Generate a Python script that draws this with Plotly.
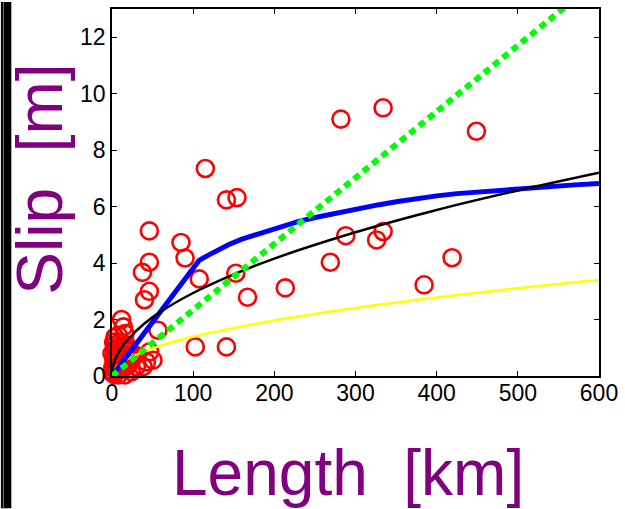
import plotly.graph_objects as go

# Observed slip data (length km, slip m)
obs_length = [282, 334, 449, 115, 141, 154, 46, 85, 90, 46, 37.5, 107.5, 152.5, 46, 40, 167,
              288, 334, 326, 269, 419, 213.5, 384.5, 102.6, 141, 56.6, 50.5, 46.4, 42.4, 38.3,
              30, 24, 16, 7.7, 11.8, 14, 7.7, 16, 9.8, 3.7,
              0.5, 1, 2, 3, 4, 5, 6, 8, 10, 12, 14, 18, 20, 22, 25, 3, 1.5, 9, 13, 2, 6, 18, 28,
              -2, 0, 4, 7, 11, 15, 19]
obs_slip = [9.1, 9.5, 8.67, 7.35, 6.24, 6.32, 5.14, 4.73, 4.18, 4.03, 3.67, 3.44, 3.64, 3.0, 2.7, 2.79,
            4.97, 5.12, 4.82, 4.03, 4.19, 3.12, 3.23, 1.03, 1.03, 1.62, 0.56, 0.86, 0.5, 0.33,
            0.33, 0.15, 0.04, 0.04, 2.0, 1.74, 1.44, 1.5, 1.03, 1.38,
            0.1, 0.3, 0.6, 0.9, 1.1, 0.5, 0.2, 0.8, 1.2, 0.6, 1.0, 0.7, 0.4, 0.9, 0.6, 0.05, 0.15, 0.35, 0.25, 1.2, 1.0, 1.1, 0.75,
            0.45, 0.8, 0.7, 0.55, 0.45, 0.3, 0.95]

# Model curves
black_x = [0, 2, 5, 10, 20, 40, 60, 100, 150, 200, 300, 400, 500, 600]
black_y = [0, 0.42, 0.66, 0.93, 1.31, 1.86, 2.28, 2.94, 3.6, 4.16, 5.09, 5.88, 6.57, 7.2]

yellow_x = [0, 2, 5, 10, 20, 50, 100, 200, 300, 400, 500, 600]
yellow_y = [0, 0.2, 0.31, 0.44, 0.62, 0.98, 1.39, 1.97, 2.41, 2.78, 3.11, 3.4]

blue_x = [0, 107.5, 120, 132, 144, 160, 181, 205, 230, 255, 279, 303, 327.5, 352, 376,
          400, 425, 450, 474, 500, 540, 570, 600]
blue_y = [0, 4.1, 4.3, 4.5, 4.66, 4.85, 5.05, 5.28, 5.48, 5.64, 5.79, 5.93, 6.06, 6.18, 6.29,
          6.38, 6.46, 6.52, 6.58, 6.64, 6.71, 6.77, 6.82]

green_x = [0, 600]
green_y = [0, 14.05]

x_ticks = [0, 100, 200, 300, 400, 500, 600]
y_ticks = [0, 2, 4, 6, 8, 10, 12]

FONT = "Liberation Sans, Arial, sans-serif"
PURPLE = "#800080"

fig = go.Figure()
fig.add_trace(go.Scatter(x=obs_length, y=obs_slip, mode="markers", cliponaxis=False,
                         marker=dict(symbol="circle-open", size=17, color="#ff0000",
                                     line=dict(width=2.6, color="#ff0000")),
                         showlegend=False))
fig.add_trace(go.Scatter(x=yellow_x, y=yellow_y, mode="lines", line=dict(color="#ffff00", width=2.5),
                         line_shape="spline", showlegend=False))
fig.add_trace(go.Scatter(x=blue_x, y=blue_y, mode="lines", line=dict(color="#0000ff", width=5),
                         showlegend=False))
fig.add_trace(go.Scatter(x=black_x, y=black_y, mode="lines", line=dict(color="#000000", width=2.5),
                         line_shape="spline", showlegend=False))
fig.add_trace(go.Scatter(x=green_x, y=green_y, mode="lines",
                         line=dict(color="#00ff00", width=6, dash="7px,5px"), showlegend=False))

axis_common = dict(showline=True, linecolor="black", linewidth=1.5, mirror="ticks",
                   ticks="inside", ticklen=5, tickwidth=1, tickcolor="black",
                   showgrid=False, zeroline=False,
                   tickfont=dict(family=FONT, size=23, color="black"))
fig.update_xaxes(range=[0, 600], tickvals=x_ticks, ticklabelstandoff=-4, **axis_common)
fig.update_yaxes(range=[0, 13], tickvals=y_ticks, **axis_common)

fig.update_layout(
    width=625, height=509,
    margin=dict(l=112, r=22, t=7, b=133, pad=0),
    paper_bgcolor="white", plot_bgcolor="white",
    font=dict(family=FONT),
    annotations=[
        dict(text="Slip  [m]", xref="paper", yref="paper", x=-0.1487, y=0.5366,
             xanchor="center", yanchor="middle", textangle=-90, showarrow=False,
             font=dict(family=FONT, size=64, color=PURPLE)),
        dict(text="Length  [km]", xref="paper", yref="paper", x=0.4837, y=-0.2656,
             xanchor="center", yanchor="middle", showarrow=False,
             font=dict(family=FONT, size=64, color=PURPLE)),
    ],
    shapes=[
        dict(type="rect", xref="paper", yref="paper", x0=-112/491, x1=-101.5/491,
             y0=-133/369, y1=1 + 7/369, fillcolor="black", line=dict(width=0), layer="above"),
        dict(type="line", xref="paper", yref="paper", x0=-109.5/491, x1=-109.5/491,
             y0=-133/369, y1=1 + 7/369, line=dict(color="#6878a8", width=1), layer="above"),
    ],
)

fig.write_html("out.html")
